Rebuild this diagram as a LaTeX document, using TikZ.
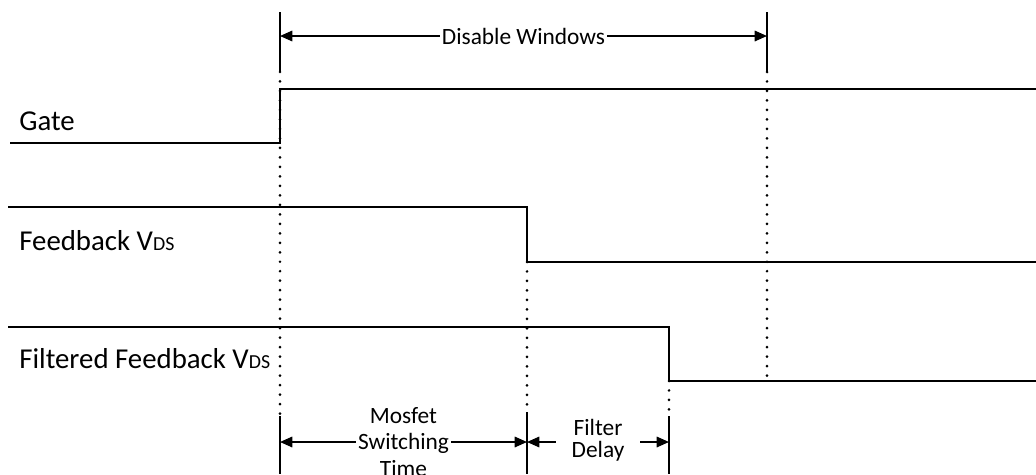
\documentclass[tikz,border=0pt]{standalone}
\usepackage{fontspec}
\setmainfont{Carlito}
\usetikzlibrary{arrows.meta}
\newcommand{\vds}{V{\fontsize{11.3pt}{12pt}\selectfont DS}}
\begin{document}
\begin{tikzpicture}[x=0.02cm,y=-0.02cm,
  sig/.style={line width=1.2pt, line join=miter},
  mark line/.style={line width=1.1pt},
  dotline/.style={line width=1.7pt, line cap=round, dash pattern=on 0pt off 5.4pt},
  dim/.style={line width=0.9pt, {Triangle[length=7pt,width=6pt]}-{Triangle[length=7pt,width=6pt]}},
  lbl/.style={font=\fontsize{16.4pt}{19pt}\selectfont, anchor=base west, inner sep=0pt},
  dimlbl/.style={font=\fontsize{13.3pt}{16pt}\selectfont, fill=white, inner ysep=2pt, inner xsep=1pt, align=center}
]
\useasboundingbox (0,0) rectangle (1036,474);
\clip (0,0) rectangle (1036,474);

% key coordinates
\coordinate (gL) at (10,143);
\coordinate (gR0) at (280,143);
\coordinate (gR1) at (280,89);
\coordinate (gE) at (1036,89);
\coordinate (fL) at (8,207);
\coordinate (fR0) at (527,207);
\coordinate (fR1) at (527,262);
\coordinate (fE) at (1036,262);
\coordinate (ffL) at (8,327);
\coordinate (ffR0) at (669,327);
\coordinate (ffR1) at (669,381);
\coordinate (ffE) at (1036,381);

% marker coordinates
\coordinate (t1top) at (280,12);
\coordinate (t1a) at (280,72);
\coordinate (t1b) at (280,416);
\coordinate (t1bot) at (280,474);
\coordinate (t4top) at (767,12);
\coordinate (t4a) at (767,72);
\coordinate (t4b) at (767,381);
\coordinate (t2a) at (527,412);
\coordinate (t2bot) at (527,474);
\coordinate (t3a) at (669,416);
\coordinate (t3bot) at (669,474);

% signals
\draw[sig] (gL) -- (gR0) -- (gR1) -- (gE);
\draw[sig] (fL) -- (fR0) -- (fR1) -- (fE);
\draw[sig] (ffL) -- (ffR0) -- (ffR1) -- (ffE);

% solid markers
\draw[mark line] (t1top) -- (t1a);
\draw[mark line] (t1b) -- (t1bot);
\draw[mark line] (t4top) -- (t4a);
\draw[mark line] (t2a) -- (t2bot);
\draw[mark line] (t3a) -- (t3bot);

% dotted guides
\draw[dotline] (t1a) -- (t1b);
\draw[dotline] (t4a) -- (t4b);
\draw[dotline] (fR1) -- (t2a);
\draw[dotline] (ffR1) -- (t3a);

% labels
\node[lbl] (gate) at (19,130) {Gate};
\node[lbl] (fb) at (19,250) {Feedback \vds};
\node[lbl] (ffb) at (19,368) {Filtered Feedback \vds};

% dimension arrows
\coordinate (dwA) at (280,36);
\coordinate (dwB) at (767,36);
\draw[dim] (dwA) -- node[dimlbl] (dw) {Disable Windows} (dwB);
\coordinate (msA) at (280,442);
\coordinate (msB) at (527,442);
\draw[dim] (msA) -- node[dimlbl] (ms) {Mosfet\\[-1pt]Switching\\[-1pt]Time} (msB);
\coordinate (fdA) at (527,442);
\coordinate (fdB) at (669,442);
\draw[dim] (fdA) -- node[dimlbl, inner xsep=9pt, yshift=1pt] (fd) {Filter\\[-3pt]Delay} (fdB);
\end{tikzpicture}
\end{document}
